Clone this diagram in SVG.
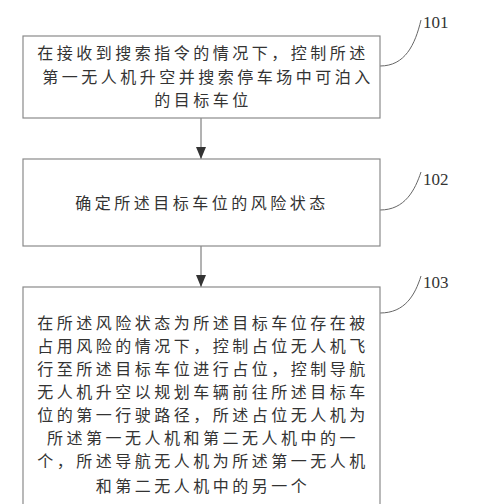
<svg xmlns="http://www.w3.org/2000/svg" width="477" height="504" viewBox="0 0 477 504">
<style>
.box{fill:#fff;stroke:#8a8a8a;stroke-width:1.2}
.t{font-family:"Noto Sans CJK SC","Noto Sans CJK JP",sans-serif;font-size:16px;fill:#333;text-anchor:middle;letter-spacing:3.5px}
.lbl{font-family:"Liberation Serif",serif;font-size:17px;fill:#333}
.ln{fill:none;stroke:#666;stroke-width:1}
</style>
<defs>
<marker id="ah" markerWidth="12" markerHeight="10" refX="12" refY="5" orient="auto" markerUnits="userSpaceOnUse" viewBox="0 0 12 10">
<path d="M0,0 L12,5 L0,10 Z" fill="#333"/>
</marker>
</defs>
<rect width="477" height="504" fill="#fff"/>
<g id="connectors">
<line class="ln" x1="201" y1="118" x2="201" y2="159" marker-end="url(#ah)"/>
<line class="ln" x1="201" y1="246" x2="201" y2="287" marker-end="url(#ah)"/>
<path class="ln" d="M380,66 C405,66 415,45 421,20"/>
<path class="ln" d="M380,210 C405,210 415,190 421,172"/>
<path class="ln" d="M380,313 C405,313 415,295 421,276"/>
</g>
<g id="node101">
<rect class="box" x="23" y="36" width="357" height="82"/>
<text class="t" x="203" y="59">在接收到搜索指令的情况下，控制所述</text>
<text class="t" x="208" y="83">第一无人机升空并搜索停车场中可泊入</text>
<text class="t" x="203" y="106">的目标车位</text>
<text class="lbl" x="423" y="28">101</text>
</g>
<g id="node102">
<rect class="box" x="23" y="159" width="357" height="87"/>
<text class="t" x="202" y="209">确定所述目标车位的风险状态</text>
<text class="lbl" x="423" y="185">102</text>
</g>
<g id="node103">
<rect class="box" x="23" y="287" width="357" height="230"/>
<text class="t" x="203" y="329">在所述风险状态为所述目标车位存在被</text>
<text class="t" x="203" y="352">占用风险的情况下，控制占位无人机飞</text>
<text class="t" x="203" y="375">行至所述目标车位进行占位，控制导航</text>
<text class="t" x="203" y="398">无人机升空以规划车辆前往所述目标车</text>
<text class="t" x="203" y="421">位的第一行驶路径，所述占位无人机为</text>
<text class="t" x="203" y="444">所述第一无人机和第二无人机中的一</text>
<text class="t" x="203" y="467">个，所述导航无人机为所述第一无人机</text>
<text class="t" x="203" y="492">和第二无人机中的另一个</text>
<text class="lbl" x="423" y="288">103</text>
</g>
</svg>
